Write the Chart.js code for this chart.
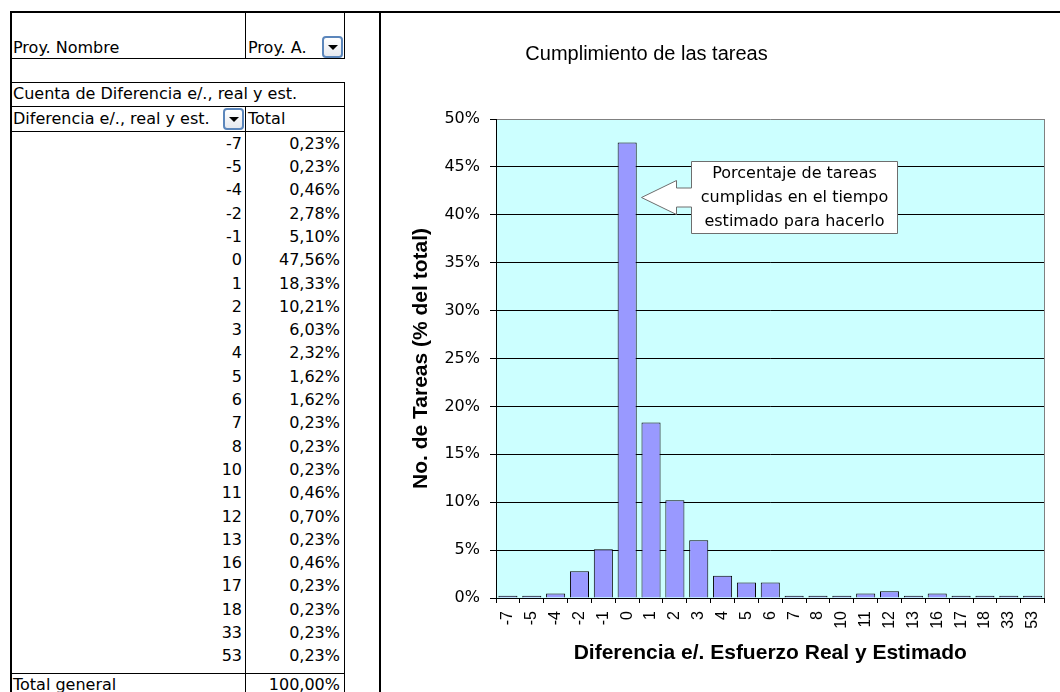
<!DOCTYPE html>
<html>
<head>
<meta charset="utf-8">
<script src="https://cdn.jsdelivr.net/npm/chart.js@4.4.1/dist/chart.umd.min.js"></script>
<style>
  html, body { margin: 0; padding: 0; background: #fff; }
  body { width: 1060px; height: 692px; position: relative; overflow: hidden;
         font-family: 'DejaVu Sans', sans-serif; font-size: 16px; color: #000; }
  .ln { position: absolute; background: #000; }
  .tx { position: absolute; white-space: nowrap; height: 24px; line-height: 24px; }
  .r { text-align: right; }
  .dd { position: absolute; width: 21px; height: 22px; box-sizing: border-box;
        border: 2px solid #5b86bb; border-radius: 4px;
        background: linear-gradient(#ffffff, #e6e9ef); }
  .dd::after { content: ''; position: absolute; left: 4px; top: 7px;
        border-left: 5px solid transparent; border-right: 5px solid transparent;
        border-top: 5px solid #000; }
  #chart { position: absolute; left: 382px; top: 13px; }
</style>
</head>
<body>
<div id="sheet"></div>
<canvas id="chart" width="678" height="679"></canvas>
<script>
// Difference between real and estimated effort (days) and share of tasks
const categories = ['-7', '-5', '-4', '-2', '-1', '0', '1', '2', '3', '4', '5', '6',
                    '7', '8', '10', '11', '12', '13', '16', '17', '18', '33', '53'];
const shares = [0.23, 0.23, 0.46, 2.78, 5.10, 47.56, 18.33, 10.21, 6.03, 2.32, 1.62, 1.62,
                0.23, 0.23, 0.23, 0.46, 0.70, 0.23, 0.46, 0.23, 0.23, 0.23, 0.23];
const totalLabel = '100,00%';

const chartTitle = 'Cumplimiento de las tareas';
const xTitle = 'Diferencia e/. Esfuerzo Real y Estimado';
const yTitle = 'No. de Tareas (% del total)';
const calloutLines = ['Porcentaje de tareas', 'cumplidas en el tiempo', 'estimado para hacerlo'];

const yMax = 50;
const yStep = 5;

// ---------- pivot table ----------
const sheet = document.getElementById('sheet');
function line(x, y, w, h) {
  const d = document.createElement('div');
  d.className = 'ln';
  Object.assign(d.style, { left: x + 'px', top: y + 'px', width: w + 'px', height: h + 'px' });
  sheet.appendChild(d);
}
function text(str, x, y, w, right) {
  const d = document.createElement('div');
  d.className = 'tx' + (right ? ' r' : '');
  d.textContent = str;
  d.style.left = x + 'px';
  d.style.top = y + 'px';
  if (w) d.style.width = w + 'px';
  sheet.appendChild(d);
}
function dropdown(x, y) {
  const d = document.createElement('div');
  d.className = 'dd';
  d.style.left = x + 'px';
  d.style.top = y + 'px';
  sheet.appendChild(d);
}
const pct = v => v.toFixed(2).replace('.', ',') + '%';

// frame
line(10, 11, 1050, 2);
line(10, 11, 2, 681);
line(379, 11, 2, 681);
// table grid
line(344, 11, 1, 47);
line(344, 82, 1, 610);
line(245, 11, 1, 47);
line(245, 106, 1, 586);
[58, 82, 106, 131, 673].forEach(y => line(10, y, 335, 1));

text('Proy. Nombre', 13, 36);
text('Proy. A.', 248, 36);
dropdown(322, 36);
text('Cuenta de Diferencia e/., real y est.', 13, 82);
text('Diferencia e/., real y est.', 13, 107);
dropdown(223, 108);
text('Total', 248, 107);

const rowH = 23.3;
categories.forEach((c, i) => {
  const top = 131.7 + rowH * i;
  text(c, 100, top, 142, true);
  text(pct(shares[i]), 250, top, 90, true);
});
text('Total general', 13, 673);
text(totalLabel, 250, 673, 90, true);

// ---------- chart ----------
const plotBackground = {
  id: 'plotBackground',
  beforeDraw(chart) {
    const { ctx, chartArea: a } = chart;
    ctx.save();
    ctx.fillStyle = '#ccffff';
    ctx.fillRect(a.left, a.top, a.right - a.left, a.bottom - a.top);
    ctx.restore();
  },
  afterDatasetsDraw(chart) {
    const { ctx, chartArea: a } = chart;
    ctx.save();
    ctx.strokeStyle = '#808080';
    ctx.lineWidth = 1;
    ctx.beginPath();
    const x = Math.round(a.right) - 0.5;
    ctx.moveTo(x, a.top);
    ctx.lineTo(x, a.bottom);
    ctx.stroke();
    ctx.restore();
  }
};

// left-arrow callout pointing at the on-time bar
const callout = {
  id: 'callout',
  afterDraw(chart) {
    const { ctx, scales: { x, y } } = chart;
    const idx = categories.indexOf('0');
    const step = x.getPixelForValue(1) - x.getPixelForValue(0);
    const tx = Math.round(x.getPixelForValue(idx) + step * 0.58) + 0.5;
    const ty = Math.round(y.getPixelForValue(41.9)) + 0.5;
    const headLen = 35, headHalf = 17, shaftHalf = 9.5, boxGap = 50, boxW = 206, boxHalf = 36;
    const bl = tx + boxGap, br = bl + boxW, bt = ty - boxHalf, bb = ty + boxHalf;
    ctx.save();
    ctx.beginPath();
    ctx.moveTo(bl, bt);
    ctx.lineTo(br, bt);
    ctx.lineTo(br, bb);
    ctx.lineTo(bl, bb);
    ctx.lineTo(bl, ty + shaftHalf);
    ctx.lineTo(tx + headLen, ty + shaftHalf);
    ctx.lineTo(tx + headLen, ty + headHalf);
    ctx.lineTo(tx, ty);
    ctx.lineTo(tx + headLen, ty - headHalf);
    ctx.lineTo(tx + headLen, ty - shaftHalf);
    ctx.lineTo(bl, ty - shaftHalf);
    ctx.closePath();
    ctx.fillStyle = '#ffffff';
    ctx.fill();
    ctx.strokeStyle = '#6e6e6e';
    ctx.lineWidth = 1;
    ctx.stroke();
    ctx.fillStyle = '#000';
    ctx.font = '16px "DejaVu Sans"';
    ctx.textAlign = 'center';
    ctx.textBaseline = 'middle';
    const cx = (bl + br) / 2;
    calloutLines.forEach((s, i) => ctx.fillText(s, cx, ty + (i - 1) * 24));
    ctx.restore();
  }
};

// place the title where the sheet layout puts it
const titlePlacement = {
  id: 'titlePlacement',
  afterLayout(chart) {
    const t = chart.titleBlock;
    if (t) { t.left = 0; t.right = 529; }
  }
};

new Chart(document.getElementById('chart'), {
  type: 'bar',
  data: {
    labels: categories,
    datasets: [{
      data: shares,
      backgroundColor: '#9999ff',
      borderColor: '#000000',
      borderWidth: 1,
      barPercentage: 0.8,
      categoryPercentage: 1.0
    }]
  },
  options: {
    responsive: false,
    animation: false,
    layout: { padding: { left: 0, right: 7, top: 0, bottom: 0 } },
    plugins: {
      legend: { display: false },
      tooltip: { enabled: false },
      title: {
        display: true,
        text: chartTitle,
        color: '#000',
        font: { family: 'Liberation Sans', size: 20, weight: 'normal' },
        padding: { top: 29, bottom: 53 }
      }
    },
    scales: {
      x: {
        offset: true,
        afterFit(s) { s.height = 94; },
        grid: {
          offset: true,
          drawOnChartArea: false,
          drawTicks: true,
          tickLength: 5,
          color: '#000',
          lineWidth: 1
        },
        border: { display: true, color: '#000', width: 1 },
        ticks: {
          autoSkip: false,
          minRotation: 90,
          maxRotation: 90,
          padding: 8,
          color: '#000',
          font: { family: 'Liberation Sans', size: 16 }
        },
        title: {
          display: true,
          text: xTitle,
          color: '#000',
          font: { family: 'Liberation Sans', size: 21, weight: 'bold' },
          padding: { top: 0, bottom: 26 }
        }
      },
      y: {
        min: 0,
        max: yMax,
        afterFit(s) { s.width = 114; },
        grid: {
          color: c => (c.tick && c.tick.value === yMax ? '#808080' : '#000'),
          tickColor: '#000',
          lineWidth: 1,
          drawTicks: true,
          tickLength: 6
        },
        border: { display: true, color: '#000', width: 1 },
        ticks: {
          stepSize: yStep,
          padding: 10,
          color: '#000',
          font: { family: 'DejaVu Sans', size: 16 },
          callback: v => v + '%'
        },
        title: {
          display: true,
          text: yTitle,
          color: '#000',
          font: { family: 'Liberation Sans', size: 21, weight: 'bold' },
          padding: { top: 27, bottom: 0 }
        }
      }
    }
  },
  plugins: [plotBackground, callout, titlePlacement]
});
</script>
</body>
</html>
